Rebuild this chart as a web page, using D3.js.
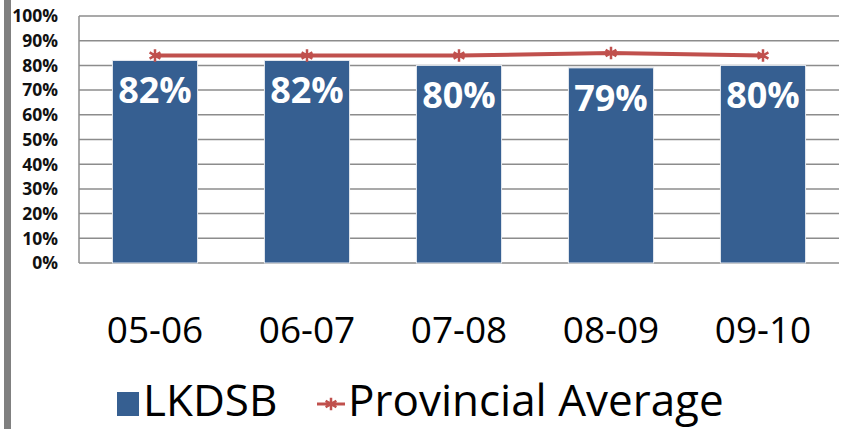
<!doctype html>
<html>
<head>
<meta charset="utf-8">
<style>
  body { margin: 0; background: #fff; }
  text { font-family: "Open Sans", sans-serif; }
</style>
<script src="https://d3js.org/d3.v7.min.js"></script>
</head>
<body>
<div id="chart"></div>
<script>

var years = ["05-06", "06-07", "07-08", "08-09", "09-10"];
var lkdsb = [82, 82, 80, 79, 80];
var provincial = [84, 84, 84, 85, 84];
var yTicks = [0, 10, 20, 30, 40, 50, 60, 70, 80, 90, 100];

var W = 845, H = 429;
var plotLeft = 79, plotRight = 839, plotTop = 16, plotBottom = 263;

var svg = d3.select("#chart").append("svg")
    .attr("width", W)
    .attr("height", H);

// grey strip down the left edge
svg.append("rect")
    .attr("x", 4).attr("y", 0)
    .attr("width", 7).attr("height", H)
    .attr("fill", "#808080");

var x = d3.scaleBand()
    .domain(years)
    .range([plotLeft, plotRight])
    .paddingInner(0.44)
    .paddingOuter(0.22);

var y = d3.scaleLinear()
    .domain([0, 100])
    .range([plotBottom, plotTop]);

// gridlines
svg.append("g").selectAll("line")
    .data(yTicks)
    .enter().append("line")
    .attr("x1", plotLeft).attr("x2", plotRight)
    .attr("y1", function(d) { return y(d); })
    .attr("y2", function(d) { return y(d); })
    .attr("stroke", "#8c8c8c")
    .attr("stroke-width", 1.5);

// y axis line
svg.append("line")
    .attr("x1", plotLeft).attr("x2", plotLeft)
    .attr("y1", plotTop).attr("y2", plotBottom)
    .attr("stroke", "#8c8c8c")
    .attr("stroke-width", 1.5);

// y labels
svg.append("g").selectAll("text")
    .data(yTicks)
    .enter().append("text")
    .attr("x", 58)
    .attr("y", function(d) { return y(d); })
    .attr("dy", "0.36em")
    .attr("text-anchor", "end")
    .attr("font-size", 17.5)
    .attr("font-weight", "bold")
    .attr("fill", "#111")
    .text(function(d) { return d + "%"; });

// bars
svg.append("g").selectAll("rect")
    .data(lkdsb)
    .enter().append("rect")
    .attr("x", function(d, i) { return x(years[i]); })
    .attr("y", function(d) { return y(d); })
    .attr("width", x.bandwidth())
    .attr("height", function(d) { return plotBottom - y(d); })
    .attr("fill", "#365f91")
    .attr("stroke", "#e4e8ee")
    .attr("stroke-width", 1);

// bar labels
svg.append("g").selectAll("text")
    .data(lkdsb)
    .enter().append("text")
    .attr("x", function(d, i) { return x(years[i]) + x.bandwidth() / 2; })
    .attr("y", function(d) { return y(d) + 43; })
    .attr("text-anchor", "middle")
    .attr("font-size", 36)
    .attr("font-weight", "bold")
    .attr("fill", "#fff")
    .text(function(d) { return d + "%"; });

// provincial line
var line = d3.line()
    .x(function(d, i) { return x(years[i]) + x.bandwidth() / 2; })
    .y(function(d) { return y(d); });

svg.append("path")
    .datum(provincial)
    .attr("d", line)
    .attr("fill", "none")
    .attr("stroke", "#c0504d")
    .attr("stroke-width", 4);

var star = d3.symbol().type(d3.symbolAsterisk).size(110);

svg.append("g").selectAll("path")
    .data(provincial)
    .enter().append("path")
    .attr("d", star)
    .attr("transform", function(d, i) {
        return "translate(" + (x(years[i]) + x.bandwidth() / 2) + "," + y(d) + ")";
    })
    .attr("fill", "none")
    .attr("stroke", "#c0504d")
    .attr("stroke-width", 2.5);

// x labels
svg.append("g").selectAll("text")
    .data(years)
    .enter().append("text")
    .attr("x", function(d) { return x(d) + x.bandwidth() / 2; })
    .attr("y", 343)
    .attr("text-anchor", "middle")
    .attr("font-size", 37)
    .attr("fill", "#000")
    .text(function(d) { return d; });

// legend
var legend = svg.append("g");

legend.append("rect")
    .attr("x", 117).attr("y", 392)
    .attr("width", 22).attr("height", 24)
    .attr("fill", "#365f91");

legend.append("text")
    .attr("x", 143).attr("y", 416)
    .attr("font-size", 44)
    .attr("fill", "#000")
    .text("LKDSB");

legend.append("line")
    .attr("x1", 317).attr("x2", 345)
    .attr("y1", 404).attr("y2", 404)
    .attr("stroke", "#c0504d")
    .attr("stroke-width", 3);

legend.append("path")
    .attr("d", star)
    .attr("transform", "translate(331,404)")
    .attr("fill", "none")
    .attr("stroke", "#c0504d")
    .attr("stroke-width", 2.5);

legend.append("text")
    .attr("x", 348).attr("y", 416)
    .attr("font-size", 44)
    .attr("fill", "#000")
    .text("Provincial Average");

</script>
</body>
</html>
